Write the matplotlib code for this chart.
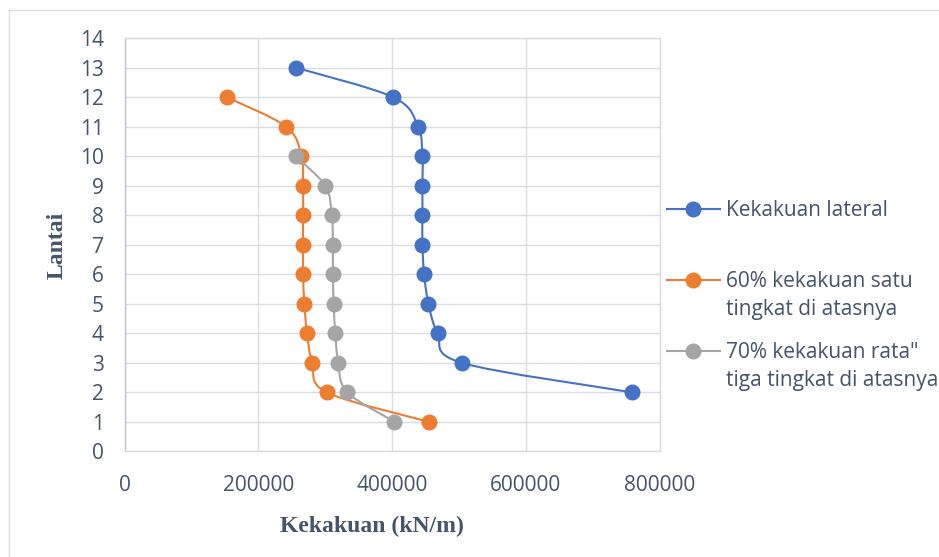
import numpy as np
import matplotlib.pyplot as plt
from matplotlib.path import Path
from matplotlib.patches import PathPatch
from matplotlib.lines import Line2D

# floors (lantai) and stiffness values (kN/m)
floors_lateral = [13, 12, 11, 10, 9, 8, 7, 6, 5, 4, 3, 2]
k_lateral = [257000, 402000, 439000, 445500, 445500, 445500, 445500, 448000, 454500, 468400, 504200, 758500]

floors_60 = [12, 11, 10, 9, 8, 7, 6, 5, 4, 3, 2, 1]
k_60 = [153400, 242000, 264500, 267000, 267000, 267000, 267000, 269000, 272800, 280900, 302200, 455000]

floors_70 = [10, 9, 8, 7, 6, 5, 4, 3, 2, 1]
k_70 = [256000, 300300, 310000, 311600, 311600, 312700, 315200, 319700, 333100, 403700]

labels = ['Kekakuan lateral',
          '60% kekakuan satu\ntingkat di atasnya',
          '70% kekakuan rata"\ntiga tingkat di atasnya']
colors = ['#4472C4', '#ED7D31', '#A5A5A5']

text_c = '#44546A'
grid_c = '#D9DCE3'

W, H = 939, 557
fx = lambda px: px / W
fy = lambda py: 1 - py / H


def smooth_path(x, y):
    # excel style smoothed line (catmull-rom as bezier)
    pts = np.column_stack([x, y]).astype(float)
    n = len(pts)
    verts = [pts[0]]
    codes = [Path.MOVETO]
    for i in range(n - 1):
        p0 = pts[max(i - 1, 0)]
        p1 = pts[i]
        p2 = pts[i + 1]
        p3 = pts[min(i + 2, n - 1)]
        verts += [p1 + (p2 - p0) / 6, p2 - (p3 - p1) / 6, p2]
        codes += [Path.CURVE4] * 3
    return Path(verts, codes)


plt.rcParams['font.family'] = ['Open Sans', 'DejaVu Sans']

fig = plt.figure(figsize=(W / 100, H / 100), dpi=100)
ax = fig.add_axes([fx(124.5), fy(451.3), fx(659.5) - fx(124.5), fy(38.3) - fy(451.3)])

series = [(k_lateral, floors_lateral), (k_60, floors_60), (k_70, floors_70)]
for i, ((xs, ys), c) in enumerate(zip(series, colors)):
    ax.add_patch(PathPatch(smooth_path(xs, ys), fill=False, edgecolor=c, lw=1.5, zorder=3 + i))
    ax.plot(xs, ys, ls='none', marker='o', ms=10.5, color=c, mec=c, zorder=3 + i)

ax.set_xlim(0, 800000)
ax.set_ylim(0, 14)
ax.set_xticks(np.arange(0, 800001, 200000))
ax.set_yticks(np.arange(0, 15, 1))
ax.set_xticklabels([str(v) for v in range(0, 800001, 200000)])
ax.grid(True, color=grid_c, lw=1.0)
ax.set_axisbelow(True)
for s in ax.spines.values():
    s.set_color(grid_c)
    s.set_linewidth(1.0)
ax.spines['left'].set_color('#BFC6D3')
ax.tick_params(length=0, labelsize=15, colors=text_c)
ax.tick_params(axis='y', pad=15)
ax.tick_params(axis='x', pad=17)

# axis titles
fig.text(fx(57), fy(245.5), 'Lantai', rotation=90, ha='center', va='center',
         family='Liberation Serif', fontweight='bold', fontsize=17, color=text_c)
fig.text(fx(372), fy(531.7), 'Kekakuan (kN/m)', ha='center', va='baseline',
         family='Liberation Serif', fontweight='bold', fontsize=17, color=text_c)

# legend drawn by hand to match the excel layout
marker_y = [209.3, 280, 351]
for lab, c, my in zip(labels, colors, marker_y):
    fig.add_artist(Line2D([fx(667), fx(693), fx(720)], [fy(my)] * 3, color=c, lw=1.5,
                          marker='o', ms=10.5, markevery=[1], mec=c))
    for j, line in enumerate(lab.split('\n')):
        fig.text(fx(725.5), fy(my + 6.8 + 28.3 * j), line, ha='left', va='baseline',
                 fontsize=15, color=text_c)

# chart area border
fig.add_artist(Line2D([fx(9), 1.0], [fy(10), fy(10)], color='#D9DCE3', lw=1.0))
fig.add_artist(Line2D([fx(9), fx(9)], [fy(10), 0.0], color='#D9DCE3', lw=1.0))

fig.savefig('out.png', dpi=100)
